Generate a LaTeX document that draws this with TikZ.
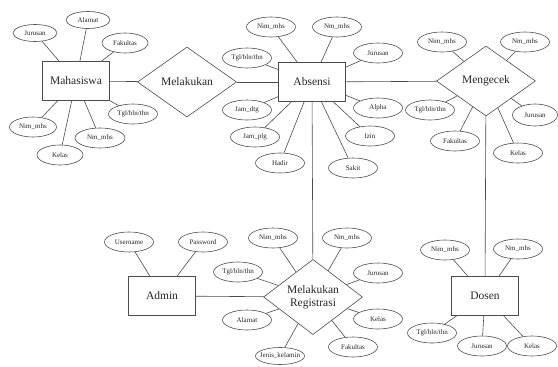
\documentclass[tikz,border=0pt]{standalone}
\usepackage{fontspec}
\setmainfont{Liberation Serif}
\usetikzlibrary{shapes.geometric}
\begin{document}
\begin{tikzpicture}[x=1pt,y=-1pt,
  ln/.style={draw=black!70,line width=0.6pt},
  ent/.style={ln,rectangle,minimum width=67pt,minimum height=39pt,inner sep=0pt,font=\fontsize{11.5}{13}\selectfont,text=black!85},
  rel/.style={ln,diamond,minimum width=99pt,minimum height=70pt,inner sep=0pt,font=\fontsize{11.5}{13}\selectfont,text=black!85,align=center},
  attr/.style={ln,ellipse,minimum width=49pt,minimum height=20pt,inner sep=0pt,font=\fontsize{7}{8}\selectfont,text=black!85},
  sm/.style={minimum width=44pt,minimum height=17pt},
  conn/.style={draw=black!70,line width=0.6pt}]
\useasboundingbox (0,0) rectangle (558,367);
\fill[white] (0,0) rectangle (558,367);
% entities and relations
\node[ent] (mhs) at (76,81) {Mahasiswa};
\node[ent] (abs) at (312,82) {Absensi};
\node[ent] (adm) at (162,296) {Admin};
\node[ent] (dos) at (485,296) {Dosen};
\node[rel] (mel) at (187,82) {Melakukan};
\node[rel] (mgc) at (486,81) {Mengecek};
\node[rel] (reg) at (313,297) {Melakukan\\Registrasi};
% Mahasiswa attributes
\node[attr,sm] (m1) at (35,33) {Jurusan};
\node[attr,sm] (m2) at (88,20) {Alamat};
\node[attr,minimum width=46pt] (m3) at (125,43) {Fakultas};
\node[attr] (m4) at (133,114) {Tgl/bln/thn};
\node[attr,minimum width=47pt] (m5) at (33,127) {Nim\_mhs};
\node[attr,minimum width=46pt] (m6) at (60,155) {Kelas};
\node[attr,minimum width=50pt] (m7) at (100,138) {Nm\_mhs};
% Absensi attributes
\node[attr] (a1) at (271,27) {Nim\_mhs};
\node[attr] (a2) at (337,27) {Nm\_mhs};
\node[attr] (a3) at (247,58) {Tgl/bln/thn};
\node[attr] (a4) at (378,53) {Jurusan};
\node[attr] (a5) at (247,110) {Jam\_dtg};
\node[attr] (a6) at (255,137) {Jam\_plg};
\node[attr] (a7) at (280,163) {Hadir};
\node[attr] (a8) at (378,108) {Alpha};
\node[attr] (a9) at (370,136) {Izin};
\node[attr] (a10) at (353,168) {Sakit};
% Mengecek attributes
\node[attr] (g1) at (442,42) {Nim\_mhs};
\node[attr] (g2) at (525,42) {Nm\_mhs};
\node[attr] (g3) at (430,110) {Tgl/bln/thn};
\node[attr] (g4) at (455,141) {Fakultas};
\node[attr,minimum width=45pt,minimum height=22pt] (g5) at (535,115) {Jurusan};
\node[attr] (g6) at (518,153) {Kelas};
% Registrasi attributes
\node[attr] (r1) at (273,238) {Nim\_mhs};
\node[attr] (r2) at (347,238) {Nm\_mhs};
\node[attr] (r3) at (238,272) {Tgl/bln/thn};
\node[attr] (r4) at (378,273) {Jurusan};
\node[attr] (r5) at (247,320) {Alamat};
\node[attr] (r6) at (378,319) {Kelas};
\node[attr,inner xsep=-6pt,minimum height=17pt] (r7) at (280,356) {Jenis\_kelamin};
\node[attr] (r8) at (353,347) {Fakultas};
% Admin attributes
\node[attr] (u1) at (129,242) {Username};
\node[attr] (u2) at (203,242) {Password};
% Dosen attributes
\node[attr] (d1) at (445,250) {Nim\_mhs};
\node[attr] (d2) at (518,249) {Nm\_mhs};
\node[attr] (d3) at (432,333) {Tgl/bln/thn};
\node[attr] (d4) at (482,346) {Jurusan};
\node[attr] (d5) at (532,346) {Kelas};
% relationship connectors
\draw[conn] (mhs) -- (mel);
\draw[conn] (mel) -- (abs);
\draw[conn] (abs) -- (mgc);
\draw[conn] (abs) -- (reg);
\draw[conn] (mgc) -- (dos);
\draw[conn] (adm) -- (reg);
% attribute connectors
\foreach \a in {m1,m2,m3,m4,m5,m6,m7}{\draw[conn] (mhs) -- (\a);}
\foreach \a in {a1,a2,a3,a4,a5,a6,a7,a8,a9,a10}{\draw[conn] (abs) -- (\a);}
\foreach \a in {g1,g2,g3,g4,g5,g6}{\draw[conn] (mgc) -- (\a);}
\foreach \a in {r1,r2,r3,r4,r5,r6,r7,r8}{\draw[conn] (reg) -- (\a);}
\foreach \a in {u1,u2}{\draw[conn] (adm) -- (\a);}
\foreach \a in {d1,d2,d3,d4,d5}{\draw[conn] (dos) -- (\a);}
\end{tikzpicture}
\end{document}
